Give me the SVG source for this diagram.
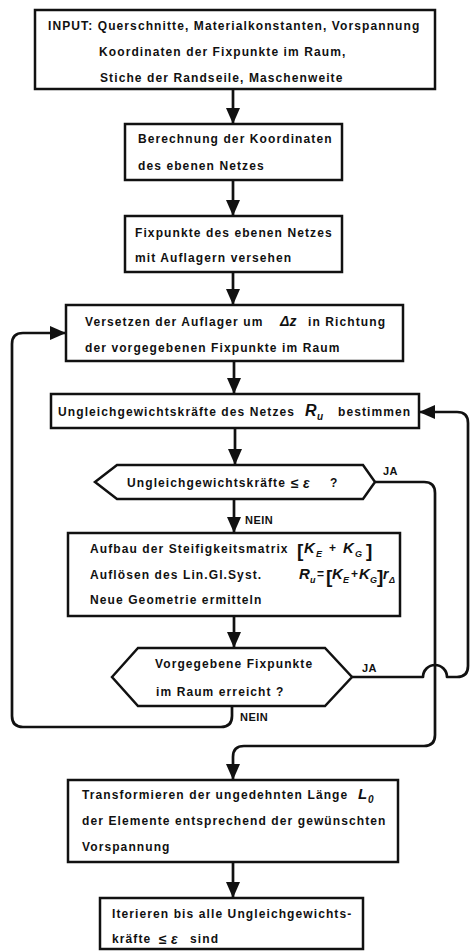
<svg xmlns="http://www.w3.org/2000/svg" width="473" height="952" viewBox="0 0 473 952">
<style>
.box{fill:#fff;stroke:#111;stroke-width:2.5}
.ln{fill:none;stroke:#111;stroke-width:2.7;stroke-linejoin:round}
.t{font-family:"Liberation Sans",Arial,sans-serif;font-weight:bold;font-size:12px;letter-spacing:1.1px;fill:#111}
.l{font-family:"Liberation Sans",Arial,sans-serif;font-weight:bold;font-size:11px;letter-spacing:0.5px;fill:#111}
.m{font-family:"Liberation Sans",Arial,sans-serif;font-weight:bold;font-style:italic;font-size:15px;fill:#111}
.s{font-family:"Liberation Sans",Arial,sans-serif;font-weight:bold;font-style:italic;font-size:9px;fill:#111}
.b{font-family:"Liberation Sans",Arial,sans-serif;font-weight:bold;font-size:19px;fill:#111}
</style>
<defs>
<marker id="ah" markerUnits="userSpaceOnUse" markerWidth="16" markerHeight="14" refX="16" refY="7" orient="auto">
<path d="M0,0 L16,7 L0,14 z" fill="#111"/>
</marker>
</defs>

<g id="connectors">
<path class="ln" d="M233,89 L233,124" marker-end="url(#ah)"/>
<path class="ln" d="M233,180 L233,216" marker-end="url(#ah)"/>
<path class="ln" d="M233,272 L233,305" marker-end="url(#ah)"/>
<path class="ln" d="M234,361 L234,394" marker-end="url(#ah)"/>
<path class="ln" d="M235,428 L235,465" marker-end="url(#ah)"/>
<path class="ln" d="M234,499 L234,533" marker-end="url(#ah)"/>
<path class="ln" d="M234,616 L234,648" marker-end="url(#ah)"/>
<path class="ln" d="M232,706 L232,716 Q232,727 221,727 L23,727 Q12,727 12,716 L12,344 Q12,333 23,333 L66,333" marker-end="url(#ah)"/>
<path class="ln" d="M375,482 L424,482 Q435,482 435,493 L435,735 Q435,746 424,746 L244,746 Q233,746 233,757 L233,780" marker-end="url(#ah)"/>
<path class="ln" d="M352,677 L423,677 A12,12 0 0 1 447,677 L457,677 Q468,677 468,666 L468,423 Q468,412 457,412 L419,412" marker-end="url(#ah)"/>
<path class="ln" d="M233,862 L233,898" marker-end="url(#ah)"/>
<text class="l" x="383" y="475">JA</text>
<text class="l" x="245" y="524">NEIN</text>
<text class="l" x="362" y="672">JA</text>
<text class="l" x="240" y="721">NEIN</text>
</g>

<g id="input">
<rect class="box" x="35" y="10" width="400" height="79"/>
<text class="t" x="48" y="30">INPUT: Querschnitte, Materialkonstanten, Vorspannung</text>
<text class="t" x="99" y="56">Koordinaten der Fixpunkte im Raum,</text>
<text class="t" x="100" y="82">Stiche der Randseile, Maschenweite</text>
</g>

<g id="berechnung">
<rect class="box" x="125" y="124" width="217" height="56"/>
<text class="t" x="138" y="143">Berechnung der Koordinaten</text>
<text class="t" x="138" y="170">des ebenen Netzes</text>
</g>

<g id="fixpunkte">
<rect class="box" x="125" y="216" width="217" height="56"/>
<text class="t" x="135" y="237">Fixpunkte des ebenen Netzes</text>
<text class="t" x="135" y="262">mit Auflagern versehen</text>
</g>

<g id="versetzen">
<rect class="box" x="66" y="305" width="337" height="56"/>
<text class="t" x="85" y="326">Versetzen der Auflager um</text>
<text class="m" x="280" y="326" style="font-size:14px">Δz</text>
<text class="t" x="308" y="326">in Richtung</text>
<text class="t" x="85" y="352">der vorgegebenen Fixpunkte im Raum</text>
</g>

<g id="ungleich">
<rect class="box" x="51" y="394" width="368" height="34"/>
<text class="t" x="58" y="416">Ungleichgewichtskräfte des Netzes</text>
<text class="m" x="305" y="416" style="font-size:16px">R</text>
<text class="s" x="317" y="420" style="font-size:10px">u</text>
<text class="t" x="338" y="416">bestimmen</text>
</g>

<g id="test1">
<polygon class="box" points="95,482 117,465 363,465 375,482 363,499 117,499"/>
<text class="t" x="127" y="487">Ungleichgewichtskräfte</text>
<text class="t" x="291" y="488" style="font-size:14px;letter-spacing:0">≤</text>
<text class="m" x="303" y="488" style="font-size:14px">ε</text>
<text class="t" x="330" y="487">?</text>
</g>

<g id="steifigkeit">
<rect class="box" x="68" y="533" width="332" height="83"/>
<text class="t" x="90" y="553">Aufbau der Steifigkeitsmatrix</text>
<text class="b" x="297" y="557">[</text>
<text class="m" x="304" y="553">K</text>
<text class="s" x="316" y="557">E</text>
<text class="t" x="329" y="552" style="letter-spacing:0">+</text>
<text class="m" x="343" y="553">K</text>
<text class="s" x="355" y="557">G</text>
<text class="b" x="366" y="557">]</text>
<text class="t" x="90" y="579">Auflösen des Lin.Gl.Syst.</text>
<text class="m" x="299" y="579">R</text>
<text class="s" x="310" y="583">u</text>
<text class="t" x="317" y="578" style="letter-spacing:0">=</text>
<text class="b" x="326" y="583">[</text>
<text class="m" x="332" y="579">K</text>
<text class="s" x="343" y="583">E</text>
<text class="t" x="351" y="578" style="letter-spacing:0">+</text>
<text class="m" x="359" y="579">K</text>
<text class="s" x="370" y="583">G</text>
<text class="b" x="377" y="583">]</text>
<text class="m" x="383" y="579" style="font-size:14px">r</text>
<text class="s" x="389" y="583">Δ</text>
<text class="t" x="90" y="604">Neue Geometrie ermitteln</text>
</g>

<g id="test2">
<polygon class="box" points="112,677 138,648 325,648 352,677 325,706 138,706"/>
<text class="t" x="155" y="668">Vorgegebene Fixpunkte</text>
<text class="t" x="156" y="696">im Raum erreicht ?</text>
</g>

<g id="transformieren">
<rect class="box" x="68" y="780" width="330" height="82"/>
<text class="t" x="82" y="799">Transformieren der ungedehnten Länge</text>
<text class="m" x="358" y="799">L</text>
<text class="s" x="368" y="803" style="font-size:10px">0</text>
<text class="t" x="82" y="825">der Elemente entsprechend der gewünschten</text>
<text class="t" x="82" y="851">Vorspannung</text>
</g>

<g id="iterieren">
<rect class="box" x="100" y="898" width="263" height="51"/>
<text class="t" x="112" y="918">Iterieren bis alle Ungleichgewichts-</text>
<text class="t" x="112" y="943">kräfte</text>
<text class="t" x="159" y="944" style="font-size:14px;letter-spacing:0">≤</text>
<text class="m" x="171" y="944" style="font-size:14px">ε</text>
<text class="t" x="190" y="943">sind</text>
</g>
</svg>
